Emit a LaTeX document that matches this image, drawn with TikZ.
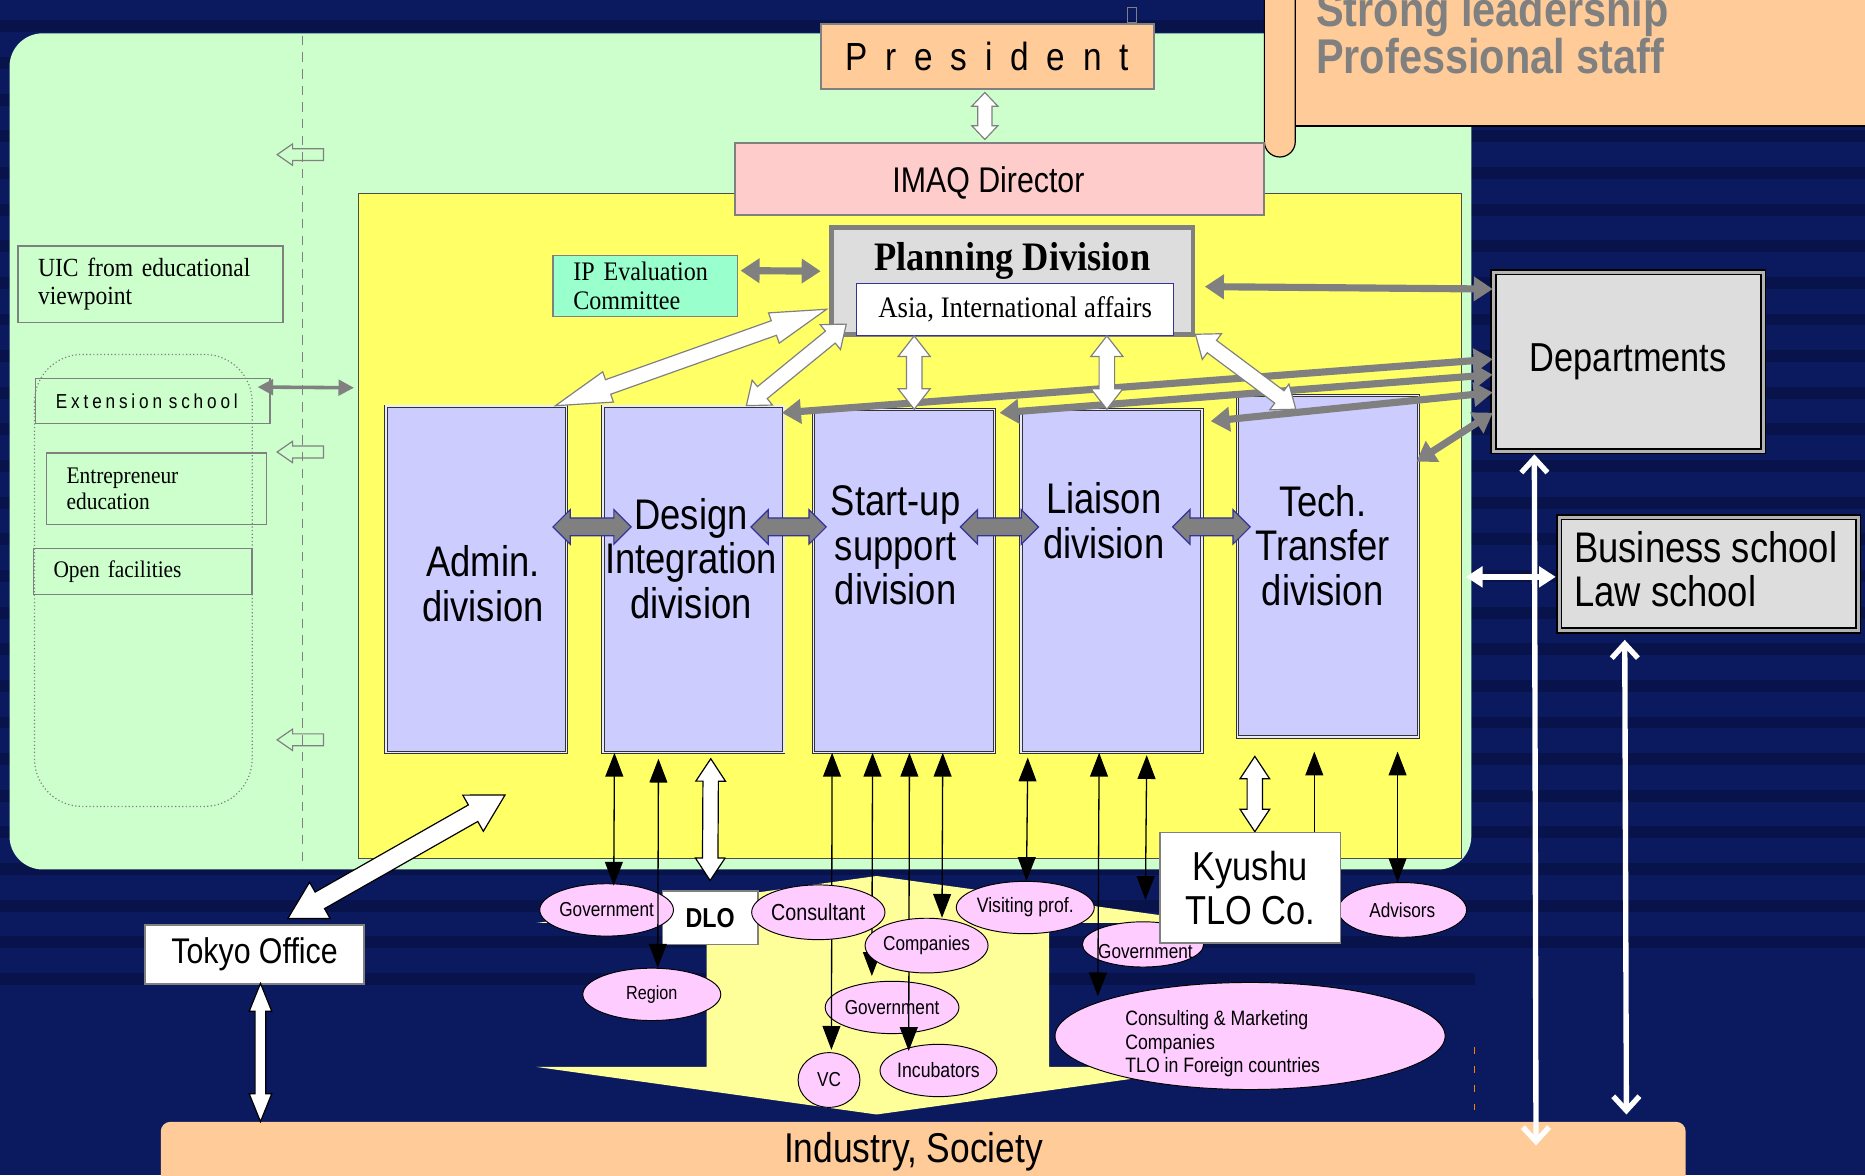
\documentclass[tikz,border=0pt]{standalone}
\usepackage{fontspec}
\setmainfont{Liberation Serif}[FakeStretch=0.9]
\setsansfont{Liberation Sans}[FakeStretch=0.85]
\usetikzlibrary{shapes.geometric,shapes.arrows,arrows.meta,calc}
\pgfdeclarelayer{front}
\pgfsetlayers{main,front}
\definecolor{navy}{HTML}{0B1A5F}
\definecolor{navyband}{HTML}{08134B}
\definecolor{ucgreen}{HTML}{CCFFCC}
\definecolor{coreyellow}{HTML}{FFFF66}
\definecolor{paleyellow}{HTML}{FFFF99}
\definecolor{peach}{HTML}{FFCC99}
\definecolor{rose}{HTML}{FFCCCC}
\definecolor{lavender}{HTML}{CCCCFF}
\definecolor{boxgray}{HTML}{DDDDDD}
\definecolor{aqua}{HTML}{99FFCC}
\definecolor{ellpink}{HTML}{FFCCFF}
\definecolor{arrgray}{HTML}{808080}
\definecolor{rimblue}{HTML}{333399}
\newcommand{\blockarr}[3][]{%
    \path let \p1=(#2), \p2=(#3),
        \n1={atan2(\y2-\y1,\x2-\x1)}, \n2={veclen(\x2-\x1,\y2-\y1)} in
        node[#1,rotate=\n1,minimum height=\n2] at ($(\p1)!0.5!(\p2)$) {};%
}
\tikzset{
    box/.style={draw=arrgray, line width=1.5pt, inner sep=0pt},
    leftbox/.style={draw=arrgray, line width=1.2pt, inner xsep=17pt, inner ysep=0pt, align=left},
    divbox/.style={draw=black!80, double=lavender!40!white, double distance=1.2pt,
        line width=0.8pt, fill=lavender, minimum width=152pt},
    divlbl/.style={font=\sffamily\fontsize{36}{37.5}\selectfont, align=center},
    deptbox/.style={draw=black, double=arrgray!60, double distance=2.5pt, line width=1.5pt,
        fill=boxgray, inner sep=0pt},
    ell/.style={ellipse, draw=black, line width=0.8pt, fill=ellpink, inner sep=0pt},
    grayarr/.style={draw=arrgray, line width=6pt, >={Triangle[length=16pt,width=20pt]}, <->},
    thinarr/.style={draw=arrgray, line width=3pt, >={Triangle[length=13pt,width=13pt]}, <->},
    blackarr/.style={draw=black, line width=1.1pt, >={Triangle[length=20pt,width=15pt]}, <->},
    whitearr/.style={draw=white, line width=4.5pt, >={Straight Barb[length=12pt,width=22pt]}, <->},
    whitetri/.style={draw=white, line width=5pt, >={Triangle[length=14pt,width=17pt]}, <->},
    blockarrow/.style={shape=double arrow, draw=arrgray, fill=white, line width=1pt,
        inner xsep=0pt, minimum width=0pt},
    plarr/.style={blockarrow, inner ysep=6pt, double arrow head extend=7pt, double arrow tip angle=76},
    longarr/.style={blockarrow, inner ysep=6pt, double arrow head extend=7pt, double arrow tip angle=32},
    presarr/.style={blockarrow, inner ysep=5.5pt, double arrow head extend=5pt, double arrow tip angle=87},
    divarr/.style={blockarrow, fill=arrgray, draw=rimblue, inner ysep=7pt,
        double arrow head extend=7pt, double arrow tip angle=90},
    boxarr/.style={blockarrow, draw=black, inner ysep=6pt, double arrow head extend=6pt, double arrow tip angle=67},
    tokyoarr/.style={blockarrow, draw=black, inner ysep=7.5pt, double arrow head extend=9.5pt, double arrow tip angle=59},
    stemarr/.style={blockarrow, draw=black, inner ysep=4pt, double arrow head extend=5pt, double arrow tip angle=44},
}
\begin{document}
\begin{tikzpicture}[x=1pt,y=-1pt]
    \useasboundingbox (0,0) rectangle (1568,988);
    \clip (0,0) rectangle (1568,988);
    \fill[navy] (0,0) rectangle (1568,988);
    \foreach \k in {1,...,27}
        \fill[navyband] (0,{818-30.8*\k}) rectangle ++(1568,10);
    \fill[navyband] (0,818) rectangle (1240,828);
    \draw[orange, line width=1pt, dash pattern=on 6pt off 10pt] (1240,880) -- (1240,933);
    \fill[ucgreen, rounded corners=28pt] (8,28) rectangle (1237,731);
    % banner
    \filldraw[fill=peach, draw=black, line width=1pt] (1089,-20) rectangle (1590,106);
    \filldraw[fill=peach, draw=black, line width=1pt, rounded corners=13pt]
        (1063,-40) -- (1063,132) -- (1089,132) -- (1089,-40);
    \node[anchor=west, align=left, text=arrgray, font=\sffamily\bfseries\fontsize{41}{39}\selectfont]
        at (1103,27.5) {Strong leadership\\Professional staff};
    \draw[arrgray] (948,6) rectangle (955,19);
    \node[draw=black!70, line width=0.8pt, fill=coreyellow, minimum width=928pt, minimum height=559pt,
        inner sep=0pt] (core) at (765,442.5) {};
    % left side
    \draw[arrgray, line width=1pt, dash pattern=on 8pt off 6pt] (254,30) -- (254,730);
    \foreach \yy in {130,380,622}
        \draw[arrgray, line width=1pt] (233,\yy) -- ++(13,-9) -- ++(0,4) -- ++(26,0)
            -- ++(0,10) -- ++(-26,0) -- ++(0,4) -- cycle;
    \draw[arrgray, line width=1pt, dotted, rounded corners=40pt] (29,298) rectangle (212,678);
    \node[leftbox, text width=189pt, minimum height=64pt, font=\fontsize{22}{24}\selectfont]
        (uic) at (126.5,239) {UIC from educational\\viewpoint};
    \node[leftbox, text width=163pt, minimum height=38pt,
        font=\sffamily\fontsize{17}{18}\selectfont\addfontfeature{LetterSpace=19}]
        (ext) at (128.5,337) {Extension school};
    \node[leftbox, text width=151pt, minimum height=60pt, font=\fontsize{20}{22}\selectfont]
        (entre) at (131.5,411) {Entrepreneur\\education};
    \node[leftbox, text width=150pt, minimum height=39pt, font=\fontsize{20}{22}\selectfont]
        (openf) at (120,480.5) {Open facilities};
    \draw[thinarr] ($(ext.north east)+(-11,8)$) -- ($(core.west)+(-3,-116.5)$);
    % top
    \node[box, fill=peach, minimum width=280pt, minimum height=55pt, font=\sffamily\fontsize{33}{34}\selectfont]
        (pres) at (830,47.5) {\spaceskip=15pt P r e s i d e n t};
    \node[box, fill=rose, minimum width=445pt, minimum height=61pt] (imaq) at (840.5,150.5) {};
    \node[font=\sffamily\fontsize{30}{32}\selectfont] at (831,154) {IMAQ Director};
    \node[draw=arrgray, line width=4pt, fill=boxgray, minimum width=304pt, minimum height=90pt]
        (plan) at (851,236) {};
    \node[font=\bfseries\fontsize{34}{36}\selectfont] at (851,219) {Planning Division};
    \node[draw=rimblue, line width=0.8pt, fill=white, minimum width=267pt, minimum height=44pt,
        font=\fontsize{25}{27}\selectfont] (asia) at (853.5,260) {Asia, International affairs};
    \node[leftbox, fill=aqua, text width=121pt, minimum height=51pt, font=\fontsize{22.5}{24}\selectfont]
        (ip) at (542.5,240.5) {IP Evaluation\\Committee};
    % divisions
    \foreach \nm/\cx/\cy/\hh in {admin/400.5/487/294, design/583/487/294, startup/760/488.5/291,
            liaison/934.5/488.5/291, tech/1116.5/476/290}
        \node[divbox, minimum height=\hh-3] (\nm) at (\cx,\cy) {};
    \node[divlbl] at (406,490.5) {Admin.\\division};
    \node[divlbl] at (581,469.5) {Design\\Integration\\division};
    \node[divlbl] at (753,458.5) {Start-up\\support\\division};
    \node[divlbl] at (928,438) {Liaison\\division};
    \node[divlbl] at (1112,458.5) {Tech.\\Transfer\\division};
    \node[deptbox, minimum width=226.5pt, minimum height=150.5pt, font=\sffamily\fontsize{34}{36}\selectfont]
        (dept) at (1369,304) {Departments};
    \node[deptbox, minimum width=251.5pt, minimum height=95.5pt] (biz) at (1436.5,482.5) {};
    \node[anchor=west, align=left, font=\sffamily\fontsize{36}{37}\selectfont]
        at (1320,478.5) {Business school\\Law school};
    % arrows in the core
    \blockarr[presarr]{$(pres.south)+(-2,2)$}{$(pres.south |- imaq.north)+(-2,-2)$}
    \draw[grayarr] ($(ip.east)+(2,-13)$) -- ($(plan.west)+(-7,-8)$);
    \draw[grayarr] ($(plan.east)+(8,5)$) -- ($(dept.north west)+(0,15)$);
    \draw[grayarr] ($(dept.west)+(0,-2)$) -- ($(design.north east)+(-2,6)$);
    \draw[grayarr] ($(dept.west)+(0,11)$) -- ($(startup.north east)+(4,3)$);
    \draw[grayarr] ($(dept.west)+(0,26)$) -- ($(liaison.north east)+(7,10)$);
    \draw[grayarr] ($(dept.west)+(0,43)$) -- ($(tech.north east)+(-2,56)$);
    \blockarr[longarr]{$(plan.south west)+(-2,-23)$}{$(admin.north east)+(-10,0)$}
    \blockarr[plarr]{$(asia.south west)+(-8,-10)$}{$(design.north east)+(-32,0)$}
    \blockarr[plarr]{$(asia.south west)+(49,0)$}{$(asia.south west |- startup.north)+(49,0)$}
    \blockarr[plarr]{$(asia.south west)+(211,0)$}{$(asia.south west |- liaison.north)+(211,0)$}
    \blockarr[plarr]{$(plan.south east)+(0,-2)$}{$(tech.north)+(-27,12)$}
    \blockarr[divarr]{$(admin.east)+(-12,-44)$}{$(design.west)+(24,-44)$}
    \blockarr[divarr]{$(design.east)+(-28,-44)$}{$(startup.west)+(11,-45.5)$}
    \blockarr[divarr]{$(startup.east)+(-29,-45.5)$}{$(liaison.west)+(15,-45.5)$}
    \blockarr[divarr]{$(liaison.east)+(-25,-45.5)$}{$(tech.west)+(11,-33)$}
    % outside
    \fill[paleyellow] (451,776) -- (737,736.5) -- (1023,776) -- (882,776) -- (882,897) -- (1023,897)
        -- (737,937) -- (451,897) -- (594,897) -- (594,776) -- cycle;
    \node[fill=peach, rounded corners=8pt, minimum width=1282pt, minimum height=70pt, inner sep=0pt,
        anchor=north west] (ind) at (135,943) {};
    \node[font=\sffamily\fontsize{35}{37}\selectfont] at (768,968) {Industry, Society};
    \node[box, fill=white, minimum width=184pt, minimum height=49pt, font=\sffamily\fontsize{30}{32}\selectfont]
        (tokyo) at (214,802.5) {Tokyo Office};
    \node[box, fill=white, minimum width=80pt, minimum height=45pt, font=\sffamily\bfseries\fontsize{23}{25}\selectfont]
        (dlo) at (597,771.5) {DLO};
    \foreach \nm/\cx/\cy/\w/\h/\fs/\txt in {gov1/510/765/90/44/17/Government, region/548/836/116/44/16/Region,
            gov2/750/847/92/44/17/Government, vc/697/908/52/46/17/VC, incub/789/900/90/44/17.5/Incubators,
            visit/862/763/116/44/17.5/Visiting prof., adv/1179/765/108/46/17/Advisors}
        \node[ell, minimum width=\w, minimum height=\h, font=\sffamily\fontsize{\fs}{\fs}\selectfont]
            (\nm) at (\cx,\cy) {\txt};
    \node[ell, minimum width=102pt, minimum height=38pt] (gov3) at (961,794) {};
    \node[font=\sffamily\fontsize{17}{17}\selectfont] at (963,800) {Government};
    \node[ell, minimum width=328pt, minimum height=90pt] (cons) at (1051,871) {};
    \node[align=left, font=\sffamily\fontsize{17.5}{19.5}\selectfont] at (1028,877.5)
        {Consulting \& Marketing\\Companies\\TLO in Foreign countries};
    \begin{pgfonlayer}{front}
        \node[ell, minimum width=90pt, minimum height=46pt, font=\sffamily\fontsize{19.5}{20}\selectfont]
            (consult) at (688,767) {Consultant};
        \node[ell, minimum width=90pt, minimum height=46pt, font=\sffamily\fontsize{17}{18}\selectfont]
            (comp) at (779,795) {Companies};
        \node[box, fill=white, minimum width=152pt, minimum height=93pt, align=center,
            font=\sffamily\fontsize{34}{37}\selectfont] (tlo) at (1051,746.5) {Kyushu\\TLO Co.};
    \end{pgfonlayer}
    \draw[blackarr] ($(design.south west)+(10,0)$) -- ($(gov1.north)+(6,2)$);
    \draw[blackarr] ($(design.south west)+(47,5)$) -- ($(region.north)+(5,0)$);
    \draw[blackarr] ($(startup.south west)+(16,0)$) -- ($(vc.north)+(2,-2)$);
    \draw[blackarr] ($(startup.south west)+(50,0)$) -- ($(gov2.north)+(-17,-4)$);
    \draw[blackarr] ($(startup.south west)+(81,0)$) -- ($(incub.north)+(-25,6)$);
    \draw[blackarr] ($(startup.south west)+(109,0)$) -- ($(comp.north)+(13,0)$);
    \draw[blackarr] ($(liaison.south west)+(6,4)$) -- ($(visit.north)+(1,0)$);
    \draw[blackarr] ($(liaison.south west)+(66,0)$) -- ($(cons.north)+(-128,12)$);
    \draw[blackarr] ($(liaison.south west)+(106,2)$) -- ($(gov3.north)+(2,-18)$);
    \draw[blackarr, ->] ($(tlo.north)+(54,0)$) -- ($(tech.south)+(-11.5,12)$);
    \draw[blackarr] ($(tech.south)+(58.5,12)$) -- ($(adv.north)+(-4,0)$);
    \blockarr[boxarr]{$(design.south west)+(91,5)$}{$(dlo.north)+(0,-8)$}
    \blockarr[boxarr]{$(tech.south)+(-61.5,16)$}{$(tlo.north)+(4,0)$}
    \blockarr[tokyoarr]{$(tokyo.north)+(28,-5)$}{$(core.south west)+(124,-54)$}
    \blockarr[stemarr]{$(tokyo.south)+(5,-1)$}{$(tokyo.south |- ind.north)+(5,0)$}
    \draw[whitearr] ($(dept.south west)+(35,2)$) -- ($(ind.north east)+(-126,20)$);
    \draw[whitearr] ($(biz.south west)+(56,7)$) -- ($(ind.north east)+(-50,-6)$);
    \draw[whitetri] ($(core.east)+(3,42.5)$) -- ($(biz.west)+(-2,2.5)$);
\end{tikzpicture}
\end{document}
